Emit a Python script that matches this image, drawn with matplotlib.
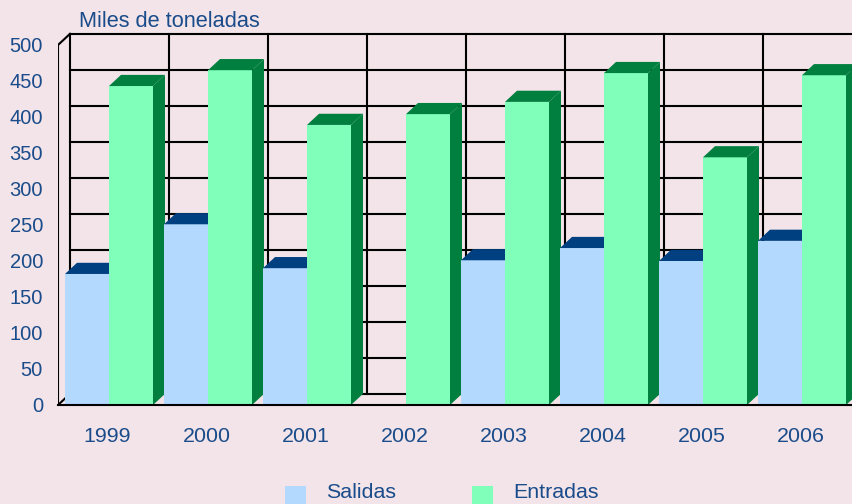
import matplotlib
matplotlib.use("Agg")
import matplotlib.pyplot as plt
from matplotlib.patches import Polygon, Rectangle

plt.rcParams['font.family'] = ['Liberation Sans', 'DejaVu Sans']

years = ['1999', '2000', '2001', '2002', '2003', '2004', '2005', '2006']
salidas = [182, 251, 190, 0, 201, 218, 200, 228]
entradas = [443, 465, 389, 404, 421, 461, 344, 458]
yticks = [0, 50, 100, 150, 200, 250, 300, 350, 400, 450, 500]

bg = '#f2e4e8'
txt = '#1a4b8a'
blue_front, blue_dark = '#b3d9ff', '#003f80'
green_front, green_dark = '#80ffbb', '#007f3f'

W, H = 853, 504
fig = plt.figure(figsize=(W / 100, H / 100), dpi=100, facecolor=bg)
# front plane: x=0 at 58px, 99px per category; value 0 at y=405px, 0.72px per unit
ax = fig.add_axes([58 / W, (H - 405) / H, (W - 58) / W, 395 / H])
ax.set_facecolor('none')
ax.set_xlim(0, (W - 58) / 99)
ax.set_ylim(0, 395 / 0.72)
for s in ax.spines.values():
    s.set_visible(False)

dx, dy = 12 / 99, 15.5   # depth offset (category units, value units)
n = len(years)
xend = (W - 58) / 99 + 0.2

# back wall grid
for v in yticks:
    ax.plot([dx, xend], [v + dy, v + dy], color='black', lw=1.5, zorder=1, clip_on=False)
for i in range(n + 1):
    ax.plot([i + dx, i + dx], [dy, 500 + dy], color='black', lw=1.5, zorder=1, clip_on=False)

# left wall edges
ax.plot([0, 0], [0, 500], color='black', lw=1.5, zorder=1)
ax.plot([0, dx], [500, 500 + dy], color='black', lw=1.5, zorder=1)
ax.plot([0, dx], [0, dy], color='black', lw=1.5, zorder=1)

bw = 44 / 99
off_b, off_g = 7 / 99, 51 / 99


def bar3d(x0, h, front, dark):
    if h <= 0:
        return
    x1 = x0 + bw
    ax.bar(x0, h, width=bw, align='edge', color=front, zorder=3, linewidth=0)
    ax.add_patch(Polygon([(x0, h), (x1, h), (x1 + dx, h + dy), (x0 + dx, h + dy)],
                         closed=True, facecolor=dark, edgecolor='none', zorder=3))
    ax.add_patch(Polygon([(x1, 0), (x1 + dx, dy), (x1 + dx, h + dy), (x1, h)],
                         closed=True, facecolor=dark, edgecolor='none', zorder=3, clip_on=False))


for i in range(n):
    bar3d(i + off_b, salidas[i], blue_front, blue_dark)
    bar3d(i + off_g, entradas[i], green_front, green_dark)

# front floor line
ax.plot([0, xend], [0, 0], color='black', lw=1.5, zorder=5, clip_on=False)

ax.set_yticks(yticks)
ax.set_yticklabels([str(v) for v in yticks])
ax.set_xticks([i + 0.5 for i in range(n)])
ax.set_xticklabels(years)
ax.tick_params(axis='y', length=0, pad=10.8, labelsize=14.5, labelcolor=txt)
ax.tick_params(axis='x', length=0, pad=15.5, labelsize=15.4, labelcolor=txt)

fig.text(79 / W, (H - 27) / H, 'Miles de toneladas', fontsize=15.7, color=txt,
         ha='left', va='baseline')

# legend
for x, lab, col in [(285, 'Salidas', blue_front), (472, 'Entradas', green_front)]:
    fig.add_artist(Rectangle((x / W, (H - 507) / H), 21 / W, 21 / H,
                             transform=fig.transFigure, facecolor=col, edgecolor='none'))
    fig.text((x + 41) / W, (H - 493) / H, lab, fontsize=15.4, color=txt,
             ha='left', va='center')

fig.savefig('out.png', dpi=100, facecolor=bg)
